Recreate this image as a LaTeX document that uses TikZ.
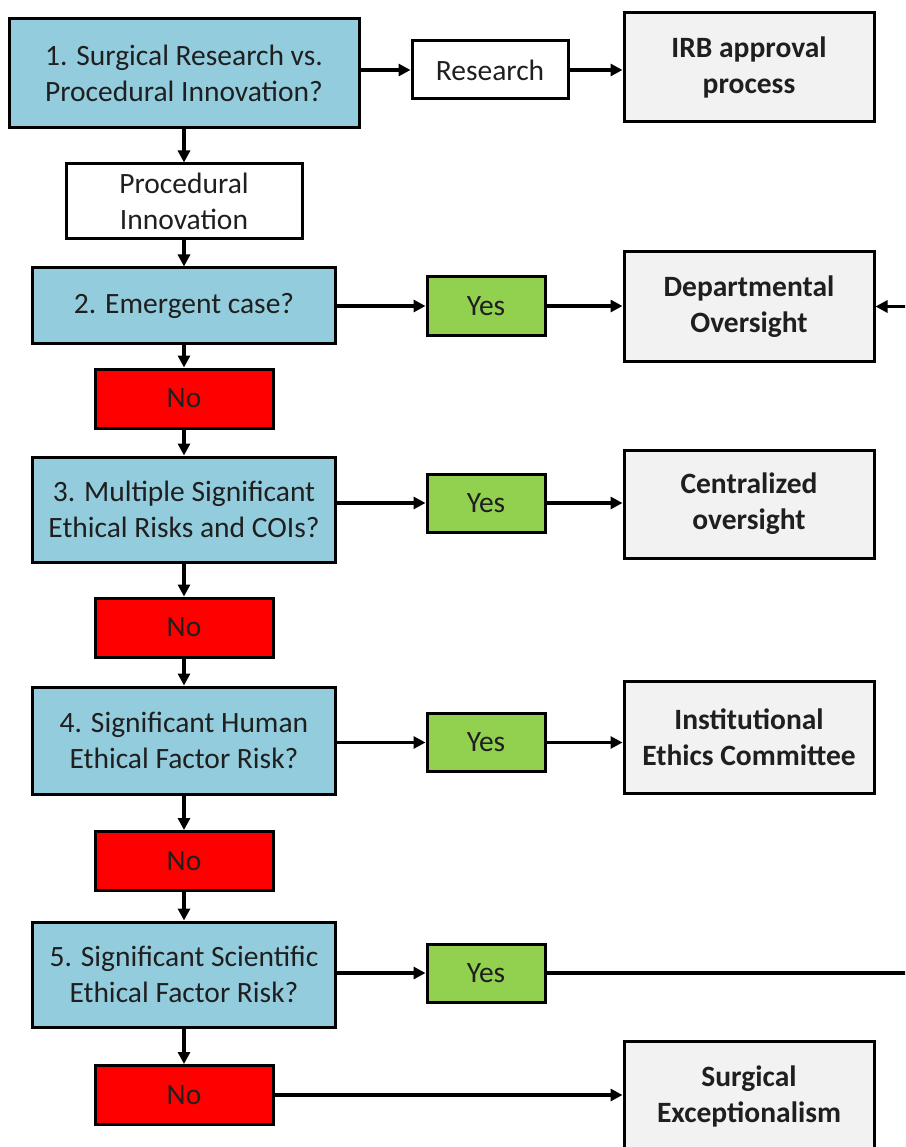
\documentclass[tikz,border=0pt]{standalone}
\usepackage{fontspec}
\setmainfont{Carlito}
\usetikzlibrary{arrows.meta,positioning}
\definecolor{qblue}{HTML}{93CDDD}
\definecolor{ygreen}{HTML}{92D050}
\definecolor{nred}{HTML}{FF0000}
\definecolor{ogray}{HTML}{F2F2F2}
\newcommand{\bigtxt}{\fontsize{29.5}{36}\selectfont}

\begin{document}
\begin{tikzpicture}[
  x=1pt, y=-1pt,
  >={Triangle[length=12pt,width=12pt]},
  bx/.style={draw=black, line width=3pt, inner sep=0pt, align=center, font=\bigtxt, text=black!88},
  qb/.style={bx, fill=qblue, minimum width=303pt, minimum height=105pt},
  wb/.style={bx, fill=white},
  yb/.style={bx, fill=ygreen, minimum width=118pt, minimum height=58pt},
  nb/.style={bx, fill=nred, minimum width=178pt, minimum height=59pt},
  ob/.style={bx, fill=ogray, minimum width=250pt, minimum height=109pt, font=\bigtxt\bfseries},
  ln/.style={line width=3.6pt}]
  \useasboundingbox (0,0) rectangle (905,1147);
  \clip (0,0) rectangle (905,1147);
  % question column
  \node[qb, minimum width=350pt, minimum height=109pt] (q1) at (184,73.5) {1. Surgical Research vs.\\Procedural Innovation?};
  \node[wb, minimum width=236pt, minimum height=75pt] (pi) at (184,201.5) {Procedural\\Innovation};
  \node[qb, minimum height=75pt] (q2) at (184,305.5) {2. Emergent case?};
  \node[nb] (n2) at (184,398.5) {No};
  \node[qb] (q3) at (184,509.5) {3. Multiple Significant\\Ethical Risks and COIs?};
  \node[nb] (n3) at (184,627.5) {No};
  \node[qb, minimum height=107pt] (q4) at (184,740.5) {4. Significant Human\\Ethical Factor Risk?};
  \node[nb] (n4) at (184,861) {No};
  \node[qb] (q5) at (184,974.5) {5. Significant Scientific\\Ethical Factor Risk?};
  \node[nb] (n5) at (184,1095) {No};
  % answers
  \node[wb, minimum width=156pt, minimum height=58pt] (res) at (490,70) {Research};
  \node[yb] (y2) at (486,306) {Yes};
  \node[yb] (y3) at (486,503) {Yes};
  \node[yb] (y4) at (486,742.5) {Yes};
  \node[yb] (y5) at (486,973) {Yes};
  % outcomes
  \node[ob] (irb) at (749,67.5) {IRB approval\\process};
  \node[ob] (dept) at (749,306.5) {Departmental\\Oversight};
  \node[ob, minimum height=108pt] (cen) at (749,504) {Centralized\\oversight};
  \node[ob, minimum height=112pt] (inst) at (749,737) {Institutional\\Ethics Committee};
  \node[ob] (surg) at (749,1096) {Surgical\\Exceptionalism};
  \coordinate (fr) at (912,973);
  \coordinate (fb) at (912,306.5);
  % connectors
  \foreach \a/\b in {q1/pi,pi/q2,q2/n2,n2/q3,q3/n3,n3/q4,q4/n4,n4/q5,q5/n5}
     \draw[ln,->] (\a) -- (\b);
  \draw[ln,->] (q1.east |- res) -- (res);
  \draw[ln,->] (res) -- (irb.west |- res);
  \foreach \i in {2,3,4,5}
     \draw[ln,->] (q\i.east |- y\i) -- (y\i);
  \draw[ln,->] (y2) -- (dept.west |- y2);
  \draw[ln,->] (y3) -- (cen.west |- y3);
  \draw[ln,->] (y4) -- (inst.west |- y4);
  \draw[ln] (y5) -- (fr);
  \draw[ln,->] (fb) -- (dept);
  \draw[ln,->] (n5) -- (surg.west |- n5);
\end{tikzpicture}
\end{document}
